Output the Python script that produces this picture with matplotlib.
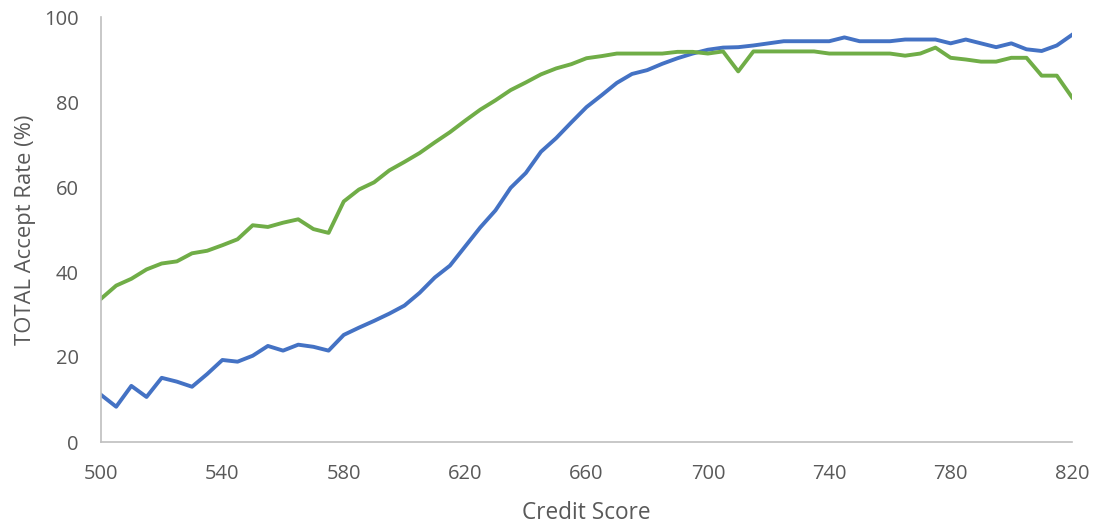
import matplotlib
matplotlib.use("Agg")
import matplotlib.pyplot as plt
import numpy as np

credit_score = list(range(500, 825, 5))

blue_rate = [11.1, 8.3, 13.2, 10.6, 15.1, 14.2, 13.0, 16.0, 19.3, 18.9,
             20.3, 22.6, 21.5, 22.9, 22.4, 21.5, 25.2, 26.9, 28.5, 30.2,
             32.1, 35.1, 38.7, 41.5, 46.0, 50.5, 54.5, 59.8, 63.3, 68.3,
             71.5, 75.2, 78.8, 81.6, 84.5, 86.6, 87.5, 89.0, 90.3, 91.4,
             92.3, 92.8, 92.9, 93.3, 93.8, 94.3, 94.3, 94.3, 94.3, 95.2,
             94.3, 94.3, 94.3, 94.7, 94.7, 94.7, 93.8, 94.7, 93.8, 92.9,
             93.8, 92.4, 92.0, 93.3, 95.8]

green_rate = [33.7, 36.8, 38.4, 40.6, 42.0, 42.5, 44.4, 45.0, 46.3, 47.7,
              51.0, 50.6, 51.6, 52.4, 50.1, 49.2, 56.6, 59.4, 61.1, 63.9,
              65.9, 68.0, 70.5, 72.9, 75.6, 78.2, 80.4, 82.8, 84.6, 86.5,
              87.9, 88.9, 90.3, 90.8, 91.4, 91.4, 91.4, 91.4, 91.8, 91.8,
              91.4, 91.9, 87.2, 91.9, 91.9, 91.9, 91.9, 91.9, 91.4, 91.4,
              91.4, 91.4, 91.4, 90.9, 91.4, 92.8, 90.4, 90.0, 89.5, 89.5,
              90.4, 90.4, 86.2, 86.2, 81.1]

x_ticks = [500, 540, 580, 620, 660, 700, 740, 780, 820]
y_ticks = [0, 20, 40, 60, 80, 100]

plt.rcParams['font.family'] = ['Open Sans', 'DejaVu Sans']
text_color = '#595959'

fig = plt.figure(figsize=(10.94, 5.27), dpi=100)
ax = fig.add_axes([101/1094, (527-442)/527, (1072-101)/1094, (442-17)/527])

ax.plot(credit_score, blue_rate, color='#4472C4', lw=2.8, solid_joinstyle='round')
ax.plot(credit_score, green_rate, color='#70AD47', lw=2.8, solid_joinstyle='round')

ax.set_xlim(500, 820)
ax.set_ylim(0, 100)
ax.set_xticks(x_ticks)
ax.set_yticks(y_ticks)
ax.tick_params(axis='both', length=0, labelsize=14.5, labelcolor=text_color)
ax.tick_params(axis='x', pad=16)
ax.tick_params(axis='y', pad=16)

for s in ['top', 'right']:
    ax.spines[s].set_visible(False)
for s in ['left', 'bottom']:
    ax.spines[s].set_color('#BFBFBF')
    ax.spines[s].set_linewidth(1.2)

ax.set_xlabel('Credit Score', fontsize=16.3, color=text_color, labelpad=12)
ax.set_ylabel('TOTAL Accept Rate (%)', fontsize=15.8, color=text_color, labelpad=6)

fig.savefig('out.png', dpi=100)
